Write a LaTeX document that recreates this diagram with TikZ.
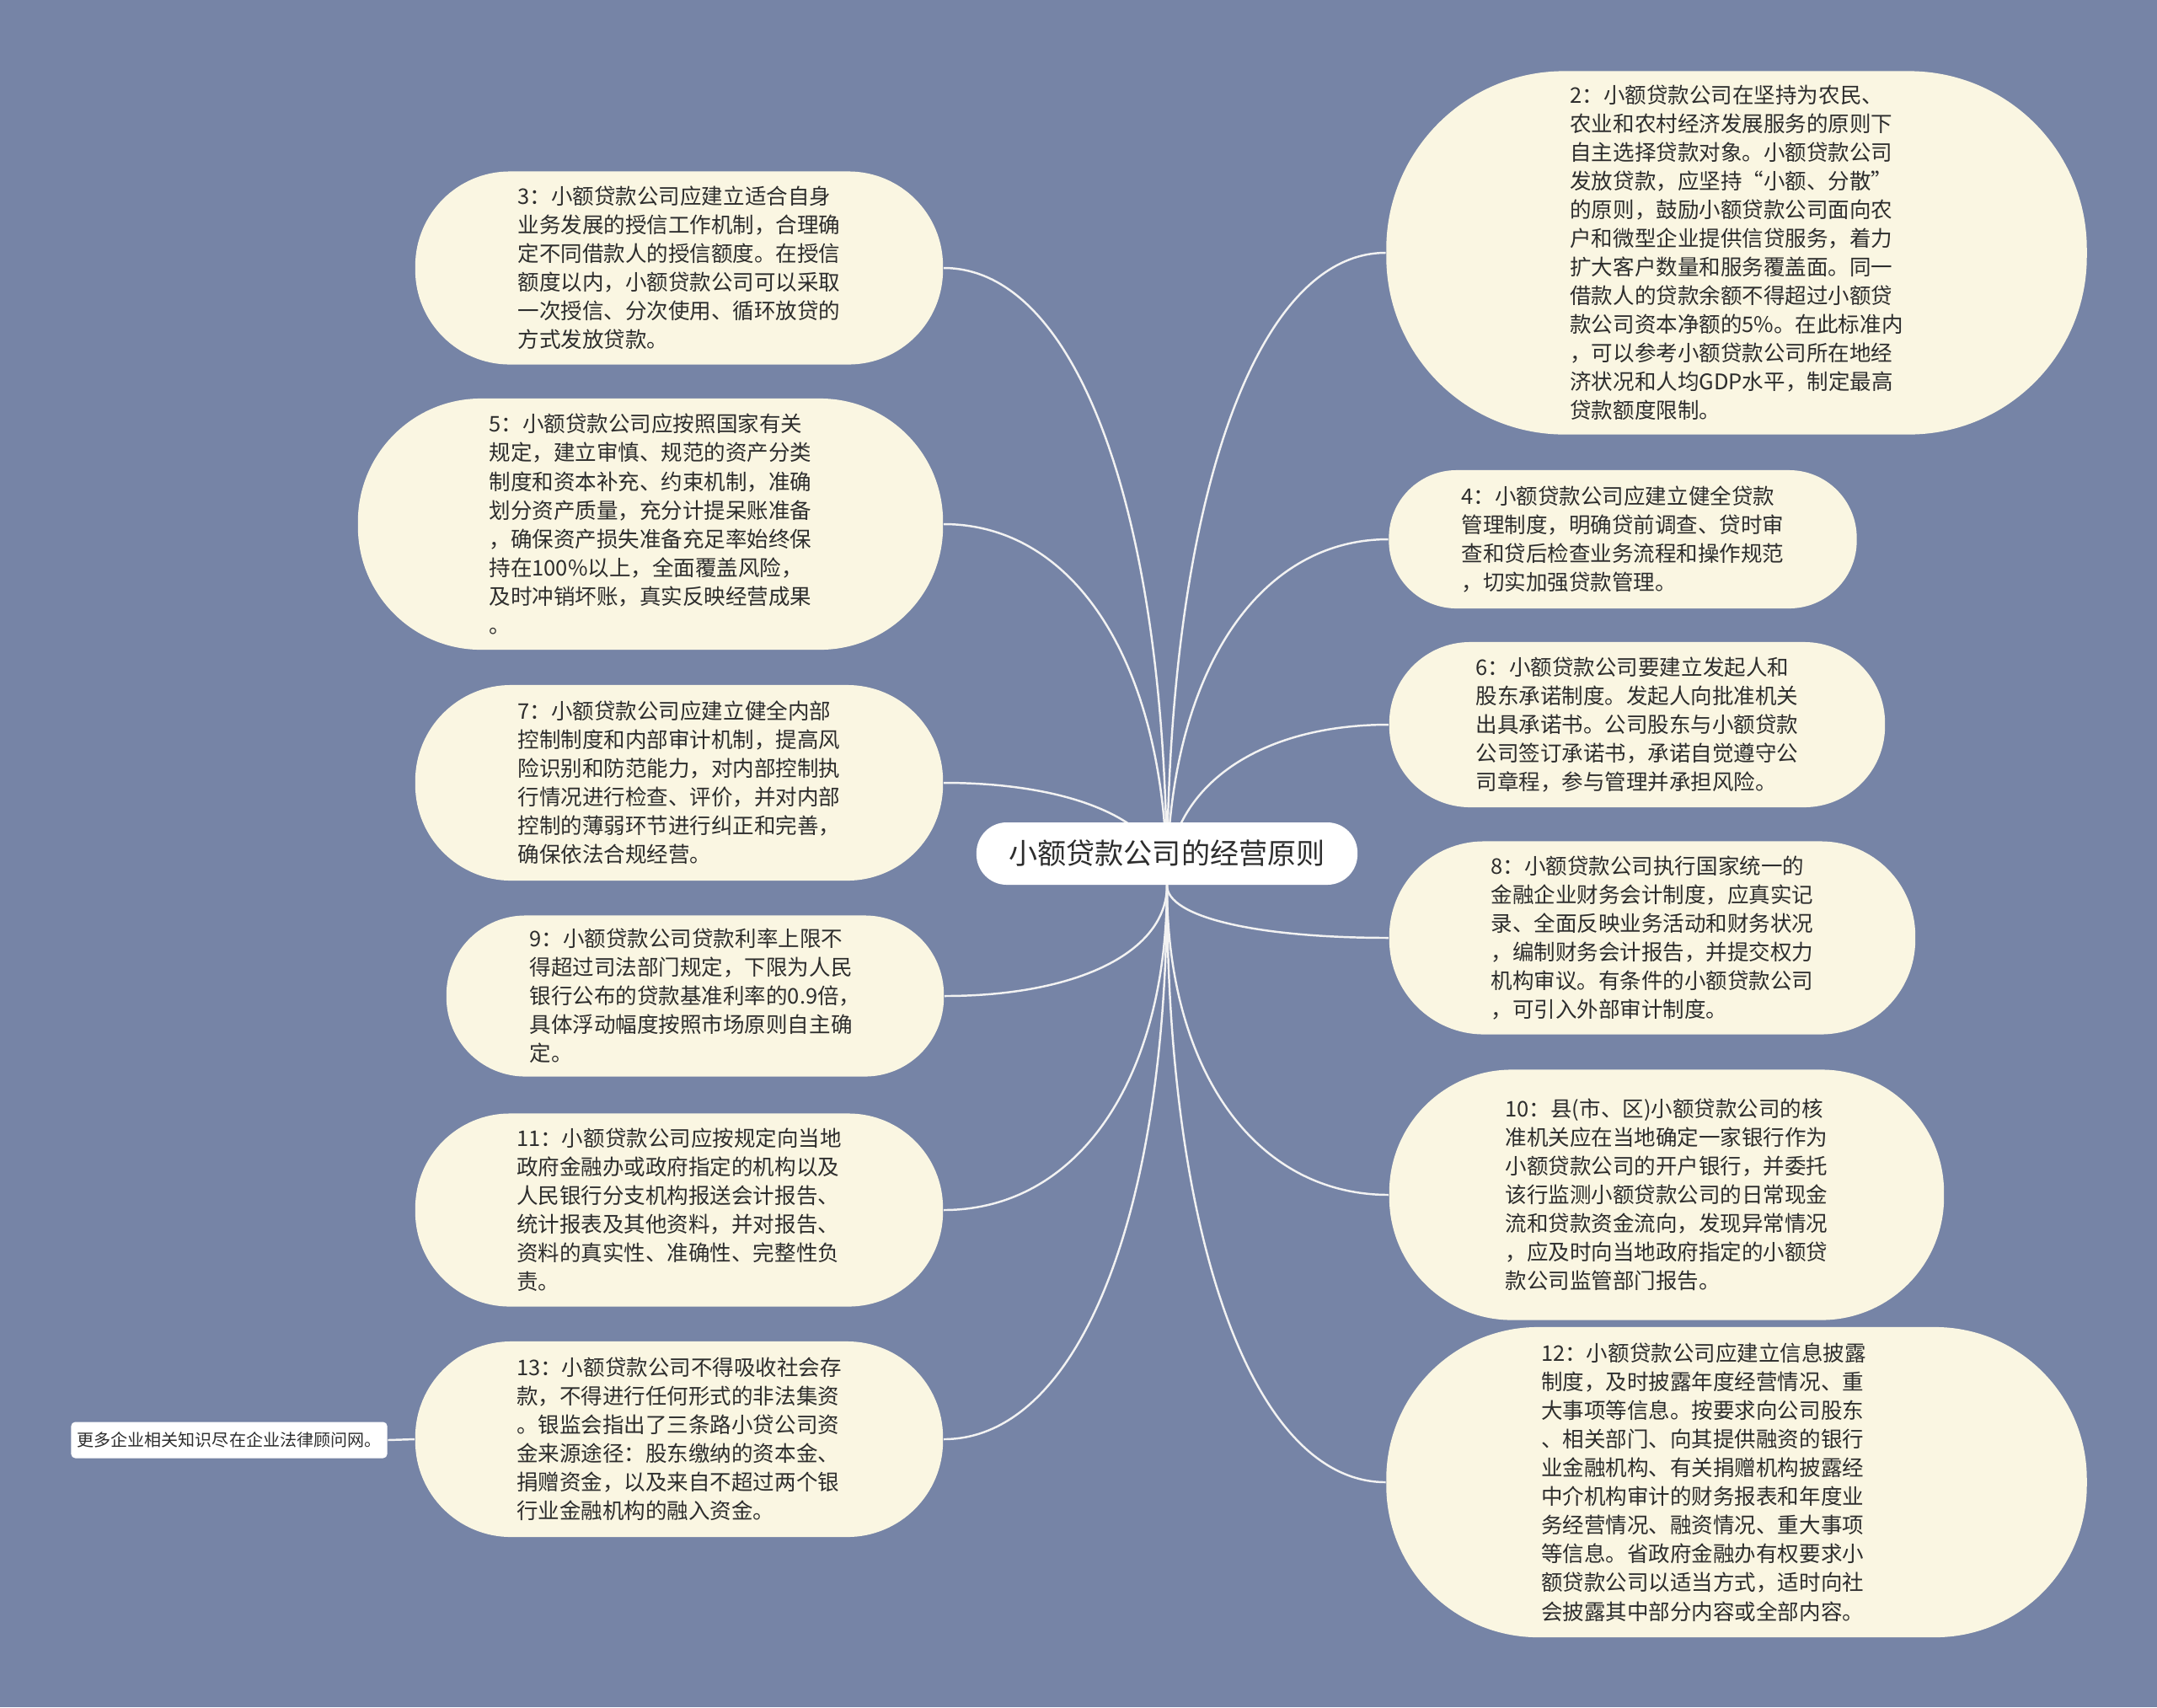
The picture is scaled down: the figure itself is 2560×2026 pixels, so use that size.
\documentclass[tikz,border=0pt]{standalone}
\usepackage{fontspec}
\newfontfamily\cjk{Noto Sans CJK SC}
\usetikzlibrary{calc}

% 颜色
\definecolor{bgblue}{RGB}{118,132,166}
\definecolor{leafcream}{RGB}{250,246,226}
\definecolor{inkgray}{RGB}{45,45,45}
\definecolor{linkwhite}{RGB}{242,242,242}

\pgfdeclarelayer{bg}
\pgfdeclarelayer{links}
\pgfsetlayers{bg,links,main}

\tikzset{
  topic/.style 2 args={fill=leafcream, text=inkgray, align=left, inner sep=0pt,
    font=\cjk\fontsize{7.26}{9.68}\selectfont,
    minimum width=#1, minimum height=#2, rounded corners=0.49*#2},
  root/.style={fill=white, text=inkgray, inner sep=0pt,
    font=\cjk\fontsize{9.7}{11}\selectfont,
    minimum width=4.52cm, minimum height=0.74cm, rounded corners=0.36cm},
  note/.style={fill=white, text=inkgray, inner sep=0pt,
    font=\cjk\fontsize{5.7}{7}\selectfont,
    minimum width=3.75cm, minimum height=0.43cm, rounded corners=0.05cm},
  link/.style={draw=linkwhite, line width=0.7pt},
}

\begin{document}
\begin{tikzpicture}[x=0.01cm, y=-0.01cm]
  % 背景
  \begin{pgfonlayer}{bg}
    \fill[bgblue] (0,0) rectangle (2560,2026);
  \end{pgfonlayer}
  \useasboundingbox (0,0) rectangle (2560,2026);

  % 中心主题
  \node[root] (c) at (1385,1013) {小额贷款公司的经营原则};

  % 左侧分支
  \node[topic={6.26cm}{2.29cm}] (n3) at (806,318) {3：小额贷款公司应建立适合自身\\业务发展的授信工作机制，合理确\\定不同借款人的授信额度。在授信\\额度以内，小额贷款公司可以采取\\一次授信、分次使用、循环放贷的\\方式发放贷款。};
  \node[topic={6.94cm}{2.98cm}] (n5) at (772,622) {5：小额贷款公司应按照国家有关\\规定，建立审慎、规范的资产分类\\制度和资本补充、约束机制，准确\\划分资产质量，充分计提呆账准备\\，确保资产损失准备充足率始终保\\持在100\%以上，全面覆盖风险，\\及时冲销坏账，真实反映经营成果\\。};
  \node[topic={6.26cm}{2.32cm}] (n7) at (806,929) {7：小额贷款公司应建立健全内部\\控制制度和内部审计机制，提高风\\险识别和防范能力，对内部控制执\\行情况进行检查、评价，并对内部\\控制的薄弱环节进行纠正和完善，\\确保依法合规经营。};
  \node[topic={5.90cm}{1.91cm}] (n9) at (825,1182) {9：小额贷款公司贷款利率上限不\\得超过司法部门规定，下限为人民\\银行公布的贷款基准利率的0.9倍，\\具体浮动幅度按照市场原则自主确\\定。};
  \node[topic={6.26cm}{2.29cm}] (n11) at (806,1436) {11：小额贷款公司应按规定向当地\\政府金融办或政府指定的机构以及\\人民银行分支机构报送会计报告、\\统计报表及其他资料，并对报告、\\资料的真实性、准确性、完整性负\\责。};
  \node[topic={6.26cm}{2.32cm}] (n13) at (806,1708) {13：小额贷款公司不得吸收社会存\\款，不得进行任何形式的非法集资\\。银监会指出了三条路小贷公司资\\金来源途径：股东缴纳的资本金、\\捐赠资金，以及来自不超过两个银\\行业金融机构的融入资金。};
  \node[note] (tip) at (272,1709) {更多企业相关知识尽在企业法律顾问网。};

  % 右侧分支
  \node[topic={8.31cm}{4.31cm}] (n2) at (2061,300) {2：小额贷款公司在坚持为农民、\\农业和农村经济发展服务的原则下\\自主选择贷款对象。小额贷款公司\\发放贷款，应坚持“小额、分散”\\的原则，鼓励小额贷款公司面向农\\户和微型企业提供信贷服务，着力\\扩大客户数量和服务覆盖面。同一\\借款人的贷款余额不得超过小额贷\\款公司资本净额的5\%。在此标准内\\，可以参考小额贷款公司所在地经\\济状况和人均GDP水平，制定最高\\贷款额度限制。};
  \node[topic={5.55cm}{1.64cm}] (n4) at (1926,640) {4：小额贷款公司应建立健全贷款\\管理制度，明确贷前调查、贷时审\\查和贷后检查业务流程和操作规范\\，切实加强贷款管理。};
  \node[topic={5.88cm}{1.96cm}] (n6) at (1943,860) {6：小额贷款公司要建立发起人和\\股东承诺制度。发起人向批准机关\\出具承诺书。公司股东与小额贷款\\公司签订承诺书，承诺自觉遵守公\\司章程，参与管理并承担风险。};
  \node[topic={6.24cm}{2.29cm}] (n8) at (1961,1113) {8：小额贷款公司执行国家统一的\\金融企业财务会计制度，应真实记\\录、全面反映业务活动和财务状况\\，编制财务会计报告，并提交权力\\机构审议。有条件的小额贷款公司\\，可引入外部审计制度。};
  \node[topic={6.58cm}{2.97cm}] (n10) at (1978,1418) {10：县(市、区)小额贷款公司的核\\准机关应在当地确定一家银行作为\\小额贷款公司的开户银行，并委托\\该行监测小额贷款公司的日常现金\\流和贷款资金流向，发现异常情况\\，应及时向当地政府指定的小额贷\\款公司监管部门报告。};
  \node[topic={8.31cm}{3.68cm}] (n12) at (2061,1759) {12：小额贷款公司应建立信息披露\hspace*{0.78cm}\\制度，及时披露年度经营情况、重\\大事项等信息。按要求向公司股东\\、相关部门、向其提供融资的银行\\业金融机构、有关捐赠机构披露经\\中介机构审计的财务报表和年度业\\务经营情况、融资情况、重大事项\\等信息。省政府金融办有权要求小\\额贷款公司以适当方式，适时向社\\会披露其中部分内容或全部内容。};

  % 连线
  \begin{pgfonlayer}{links}
    \foreach \n in {n3,n5,n7,n9,n11,n13}
      \draw[link] (\n.east) .. controls ($(\n.east)!.6!(\n.east -| c.south)$) and ($(c.south)!.6!(\n.east -| c.south)$) .. (c.south);
    \foreach \n in {n2,n4,n6,n8,n10,n12}
      \draw[link] (\n.west) .. controls ($(\n.west)!.6!(\n.west -| c.south)$) and ($(c.south)!.6!(\n.west -| c.south)$) .. (c.south);
    \draw[link] (n13.west) -- (tip.east);
  \end{pgfonlayer}
\end{tikzpicture}
\end{document}
